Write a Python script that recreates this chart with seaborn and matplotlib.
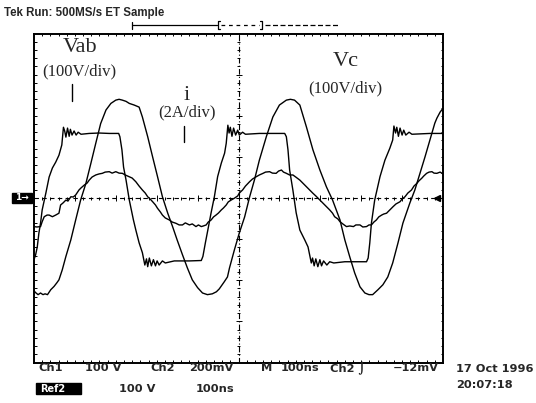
import numpy as np
import pandas as pd
import matplotlib
matplotlib.use("Agg")
import matplotlib.pyplot as plt
import seaborn as sns
from matplotlib.lines import Line2D
from matplotlib.patches import Rectangle
from matplotlib.collections import LineCollection

# ---------------- data (read from the scope screen) ----------------
# time in ns (10 div x 100 ns), Vab and Vc in volts (100 V/div), i in amps (2 A/div)
vab_t = [0, 4, 8, 12, 16, 20, 29, 37, 45, 53,
         61, 68, 72, 75, 78, 82, 86, 89, 93, 98,
         103, 108, 115, 135, 159, 184, 207, 210, 215, 219,
         225, 233, 243, 249, 257, 265, 271, 275, 278, 282,
         287, 292, 297, 301, 306, 314, 321, 343, 380, 409,
         413, 419, 425, 433, 441, 449, 458, 466, 470, 474,
         477, 480, 484, 488, 493, 498, 502, 510, 517, 551,
         613, 617, 621, 625, 633, 641, 650, 662, 670, 678,
         681, 685, 689, 694, 699, 703, 708, 716, 723, 733,
         760, 813, 817, 821, 825, 833, 846, 858, 870, 877,
         880, 884, 887, 891, 895, 900, 904, 909, 917, 924,
         968, 1000]
vab_v = [-150, -138, -119, -85, -61, -29, 12, 51, 73, 87,
         104, 129, 172, 163, 148, 170, 150, 167, 153, 163,
         153, 160, 155, 157, 158, 157, 157, 149, 117, 75,
         44, -5, -53, -78, -109, -133, -163, -148, -167, -146,
         -165, -150, -165, -153, -163, -153, -158, -153, -153, -152,
         -142, -109, -78, -36, 3, 52, 85, 109, 133, 177,
         158, 172, 150, 170, 153, 165, 153, 160, 155, 157,
         157, 149, 117, 68, 19, -36, -78, -102, -119, -158,
         -146, -165, -148, -167, -150, -165, -153, -163, -155, -158,
         -155, -155, -146, -109, -61, -5, 52, 92, 121, 141,
         175, 158, 172, 150, 170, 153, 165, 153, 160, 155,
         157, 157]

vc_t = [0, 5, 10, 16, 22, 27, 33, 41, 49, 56,
        61, 69, 78, 90, 102, 114, 127, 139, 151, 163,
        176, 188, 200, 208, 216, 225, 233, 245, 257, 265,
        278, 290, 302, 314, 327, 339, 350, 363, 375, 387,
        400, 412, 424, 436, 446, 453, 465, 473, 478, 490,
        502, 515, 527, 539, 551, 568, 584, 600, 617, 627,
        637, 650, 666, 682, 699, 715, 730, 748, 760, 772,
        784, 797, 809, 819, 828, 841, 853, 865, 877, 890,
        902, 919, 931, 944, 956, 968, 980, 985, 993, 1000]
vc_v = [-226, -231, -235, -231, -235, -233, -235, -223, -215, -206,
        -199, -175, -142, -102, -53, -5, 36, 84, 133, 181,
        214, 230, 238, 240, 238, 235, 230, 226, 221, 197,
        149, 100, 52, 3, -37, -70, -102, -138, -170, -199,
        -218, -231, -235, -233, -228, -221, -204, -192, -170, -126,
        -85, -46, 2, 44, 92, 149, 197, 226, 238, 240,
        238, 226, 173, 117, 68, 27, -5, -53, -102, -143,
        -182, -216, -231, -235, -235, -223, -211, -192, -158, -109,
        -61, -12, 19, 61, 100, 141, 182, 194, 209, 218]

i_t = [0, 7, 16, 20, 25, 32, 37, 45, 53, 61,
       65, 71, 78, 83, 90, 96, 102, 110, 115, 123,
       130, 135, 142, 151, 159, 167, 174, 184, 191, 200,
       208, 216, 223, 233, 240, 249, 257, 265, 272, 278,
       284, 290, 297, 302, 309, 314, 321, 331, 338, 347,
       355, 363, 370, 380, 387, 396, 402, 409, 414, 421,
       426, 433, 439, 445, 451, 458, 463, 470, 475, 482,
       490, 498, 502, 510, 517, 527, 534, 543, 551, 560,
       566, 576, 583, 592, 598, 605, 610, 617, 625, 633,
       640, 650, 657, 666, 674, 682, 689, 699, 706, 715,
       723, 730, 735, 743, 748, 755, 764, 772, 781, 787,
       797, 804, 813, 819, 825, 831, 837, 843, 850, 855,
       862, 870, 878, 885, 895, 900, 907, 914, 923, 929,
       936, 941, 948, 953, 960, 966, 973, 978, 985, 993,
       1000]
i_a = [-1.39, -1.41, -1.39, -1.15, -0.91, -0.83, -0.83, -0.91, -0.83, -0.74,
       -0.34, -0.24, -0.10, -0.15, 0.06, 0.05, 0.15, 0.39, 0.49, 0.63,
       0.73, 0.87, 1.02, 1.12, 1.17, 1.20, 1.26, 1.28, 1.21, 1.28,
       1.21, 1.20, 1.12, 1.03, 0.97, 0.79, 0.58, 0.39, 0.24, 0.06,
       -0.05, -0.18, -0.34, -0.50, -0.68, -0.83, -0.97, -1.07, -1.17, -1.23,
       -1.31, -1.31, -1.21, -1.31, -1.26, -1.39, -1.31, -1.39, -1.36, -1.31,
       -1.17, -1.07, -0.92, -0.83, -0.73, -0.58, -0.49, -0.34, -0.19, -0.10,
       -0.01, 0.10, 0.24, 0.39, 0.58, 0.79, 0.92, 1.03, 1.12, 1.20,
       1.26, 1.28, 1.21, 1.20, 1.31, 1.36, 1.26, 1.20, 1.12, 1.12,
       1.02, 0.87, 0.73, 0.55, 0.39, 0.23, 0.10, -0.10, -0.24, -0.42,
       -0.58, -0.74, -0.91, -1.02, -1.15, -1.26, -1.39, -1.36, -1.39, -1.31,
       -1.31, -1.41, -1.39, -1.31, -1.31, -1.17, -1.07, -0.92, -0.83, -0.78,
       -0.74, -0.58, -0.42, -0.29, -0.18, -0.05, 0.06, 0.24, 0.39, 0.58,
       0.71, 0.83, 0.96, 1.07, 1.20, 1.26, 1.28, 1.21, 1.20, 1.26,
       1.17]

volts_per_div = 100.0
amps_per_div = 2.0

# ---------------- figure ----------------
sns.set_theme(style="white")
plt.rcParams['font.family'] = ['DejaVu Sans']

W, H = 536, 403
fig = plt.figure(figsize=(W / 100, H / 100), dpi=100)
fig.patch.set_facecolor("white")
L, R, T, B = 34, 443, 33.5, 362.5
ax = fig.add_axes([L / W, 1 - B / H, (R - L) / W, (B - T) / H])
ax.set_facecolor("white")


def fx(px):
    return px / W


def fy(py):
    return 1 - py / H


df = pd.concat([
    pd.DataFrame({"t": vab_t, "div": np.array(vab_v) / volts_per_div, "trace": "Vab"}),
    pd.DataFrame({"t": vc_t, "div": np.array(vc_v) / volts_per_div, "trace": "Vc"}),
    pd.DataFrame({"t": i_t, "div": np.array(i_a) / amps_per_div, "trace": "i"}),
], ignore_index=True)

sns.lineplot(data=df, x="t", y="div", hue="trace",
             palette={"Vab": "black", "Vc": "black", "i": "black"},
             estimator=None, sort=False, legend=False, linewidth=1.0, ax=ax)

ax.set_xlim(0, 1000)
ax.set_ylim(-4, 4)
ax.set_xticks([])
ax.set_yticks([])
ax.set_xlabel("")
ax.set_ylabel("")
for s in ax.spines.values():
    s.set_color("black")
    s.set_linewidth(1.4)

dx = 1000 / (R - L)   # ns per pixel
dy = 8 / (B - T)      # div per pixel

segs = []
for t in np.arange(20, 1000, 20):
    segs.append([(t, -4), (t, -4 + 2.5 * dy)])
    segs.append([(t, 4), (t, 4 - 2.5 * dy)])
for d in np.arange(-3.8, 4.0, 0.2):
    segs.append([(0, d), (2.5 * dx, d)])
    segs.append([(1000, d), (1000 - 2.5 * dx, d)])
# ticks on the centre lines
for d in np.arange(-3.8, 4.0, 0.2):
    k = 3 if abs(d - round(d)) < 1e-6 else 1.5
    segs.append([(500 - k * dx, d), (500 + k * dx, d)])
for t in np.arange(20, 1000, 20):
    k = 3 if abs(t % 100) < 1e-6 else 1.5
    segs.append([(t, -k * dy), (t, k * dy)])
ax.add_collection(LineCollection(segs, colors="black", linewidths=0.7))

ax.axvline(500, color="black", lw=0.8, ls=(0, (5, 2, 1, 2)))
ax.axhline(0, color="black", lw=0.8, ls=(0, (4, 3)))
ax.plot([985], [0], marker="<", ms=4, color="black")

# ---------------- annotations inside the screen ----------------
serif = ["Liberation Serif", "DejaVu Serif"]
fig.text(fx(80), fy(48), "Vab", family=serif, fontsize=16, ha="center", va="center")
fig.text(fx(79), fy(71), "(100V/div)", family=serif, fontsize=12, ha="center", va="center")
fig.add_artist(Line2D([fx(72), fx(72)], [fy(84), fy(101)], color="black", lw=1.0))

fig.text(fx(187), fy(95), "i", family=serif, fontsize=16, ha="center", va="center")
fig.text(fx(187), fy(112), "(2A/div)", family=serif, fontsize=12, ha="center", va="center")
fig.add_artist(Line2D([fx(184), fx(184)], [fy(126), fy(142)], color="black", lw=1.0))

fig.text(fx(346), fy(62), "Vc", family=serif, fontsize=16, ha="center", va="center")
fig.text(fx(345), fy(88), "(100V/div)", family=serif, fontsize=12, ha="center", va="center")

# ---------------- header ----------------
fig.text(fx(4), fy(13), "Tek Run: 500MS/s ET Sample", fontsize=8.3,
         family=["Liberation Sans", "DejaVu Sans"],
         fontweight="bold", ha="left", va="center")
yb = 25
fig.add_artist(Line2D([fx(132), fx(132)], [fy(22), fy(29)], color="black", lw=0.9))
fig.add_artist(Line2D([fx(132), fx(217)], [fy(yb), fy(yb)], color="black", lw=0.9))
fig.add_artist(Line2D([fx(220), fx(218), fx(218), fx(220)], [fy(21), fy(21), fy(29), fy(29)],
                      color="black", lw=0.9))
fig.add_artist(Line2D([fx(221), fx(259)], [fy(yb), fy(yb)], color="black", lw=0.9, ls=(0, (3, 3))))
fig.add_artist(Line2D([fx(260), fx(262), fx(262), fx(260)], [fy(21), fy(21), fy(29), fy(29)],
                      color="black", lw=0.9))
fig.add_artist(Line2D([fx(265), fx(338)], [fy(yb), fy(yb)], color="black", lw=0.9, ls=(0, (4, 2))))

# ground marker at left
fig.add_artist(Rectangle((fx(12), fy(203)), fx(20), 10 / H, color="black"))
fig.text(fx(22), fy(198), "1→", color="white", fontsize=6.5, fontweight="bold",
         ha="center", va="center")

# ---------------- status lines ----------------
fs = 8.2
row1 = 368
for x, s in [(38, "Ch1"), (85, "100 V"), (150, "Ch2"), (189, "200mV"), (261, "M"),
             (281, "100ns"), (330, "Ch2 \u2321"), (393, "\u221212mV")]:
    fig.text(fx(x), fy(row1), s, fontsize=fs, fontweight="bold", ha="left", va="center")
fig.text(fx(456), fy(369), "17 Oct 1996", fontsize=fs, fontweight="bold", ha="left", va="center")
fig.text(fx(456), fy(385), "20:07:18", fontsize=fs, fontweight="bold", ha="left", va="center")
row2 = 389
fig.add_artist(Rectangle((fx(36), fy(394)), fx(45), 11 / H, color="black"))
fig.text(fx(40), fy(row2), "Ref2", color="white", fontsize=7, fontweight="bold",
         ha="left", va="center")
fig.text(fx(119), fy(row2), "100 V", fontsize=fs, fontweight="bold", ha="left", va="center")
fig.text(fx(196), fy(row2), "100ns", fontsize=fs, fontweight="bold", ha="left", va="center")

fig.savefig("out.png", dpi=100, facecolor="white")
